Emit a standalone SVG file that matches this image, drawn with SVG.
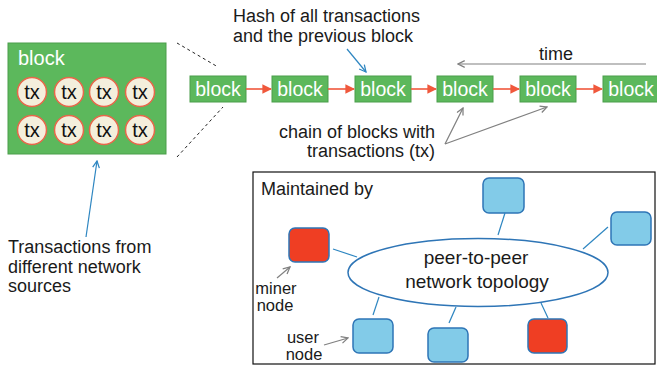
<svg xmlns="http://www.w3.org/2000/svg" width="657" height="367" viewBox="0 0 657 367">
<defs>
<style>
text{font-family:"Liberation Sans",Arial,sans-serif;fill:#1a1a1a}
.blk{fill:#5cb85c;stroke:#4a9e4a;stroke-width:1}
.bl{fill:#fff;font-size:19.5px;text-anchor:middle}
.tx{fill:#f4efdc;stroke:#e8674a;stroke-width:1.5}
.txt{font-size:20px;text-anchor:middle;fill:#111}
.lbl{font-size:18px}
.small{font-size:16.5px;text-anchor:middle}
.nb{fill:#82cbe8;stroke:#2e75b6;stroke-width:1.5}
.nr{fill:#ef3e23;stroke:#2e75b6;stroke-width:1.5}
.link{stroke:#2e86c1;stroke-width:1.2;fill:none}
.red{stroke:#f0583c;stroke-width:1.6;fill:none}
.gray{stroke:#808080;stroke-width:1.2;fill:none}
.blue{stroke:#2e86c1;stroke-width:1.2;fill:none}
.dash{stroke:#222;stroke-width:1;stroke-dasharray:3,3;fill:none}
</style>
<marker id="ar" viewBox="0 0 10 10" refX="9" refY="5" markerWidth="6" markerHeight="6" orient="auto"><path d="M0,0L10,5L0,10z" fill="#f0583c"/></marker>
<marker id="ag" viewBox="0 0 10 10" refX="9" refY="5" markerWidth="7" markerHeight="7" orient="auto"><path d="M1,1L9,5L1,9" fill="none" stroke="#808080" stroke-width="1.5"/></marker>
<marker id="ab" viewBox="0 0 10 10" refX="9" refY="5" markerWidth="7" markerHeight="7" orient="auto"><path d="M1,1L9,5L1,9" fill="none" stroke="#2e86c1" stroke-width="1.5"/></marker>
</defs>

<g id="big-block">
<rect class="blk" x="8" y="43" width="158" height="111"/>
<text x="18" y="65" style="fill:#fff;font-size:20px">block</text>
<g>
<circle class="tx" cx="32" cy="92" r="14.5"/><text class="txt" x="32" y="98.5">tx</text>
<circle class="tx" cx="69" cy="92" r="14.5"/><text class="txt" x="69" y="98.5">tx</text>
<circle class="tx" cx="104" cy="92" r="14.5"/><text class="txt" x="104" y="98.5">tx</text>
<circle class="tx" cx="140" cy="92" r="14.5"/><text class="txt" x="140" y="98.5">tx</text>
<circle class="tx" cx="32" cy="130" r="14.5"/><text class="txt" x="32" y="136.5">tx</text>
<circle class="tx" cx="69" cy="130" r="14.5"/><text class="txt" x="69" y="136.5">tx</text>
<circle class="tx" cx="104" cy="130" r="14.5"/><text class="txt" x="104" y="136.5">tx</text>
<circle class="tx" cx="140" cy="130" r="14.5"/><text class="txt" x="140" y="136.5">tx</text>
</g>
</g>

<g id="b1"><rect class="blk" x="190" y="76" width="56" height="26"/><text class="bl" x="218" y="96">block</text></g>
<g id="b2"><rect class="blk" x="272" y="76" width="56" height="26"/><text class="bl" x="300" y="96">block</text></g>
<g id="b3"><rect class="blk" x="355" y="76" width="56" height="26"/><text class="bl" x="383" y="96">block</text></g>
<g id="b4"><rect class="blk" x="437" y="76" width="56" height="26"/><text class="bl" x="465" y="96">block</text></g>
<g id="b5"><rect class="blk" x="520" y="76" width="56" height="26"/><text class="bl" x="548" y="96">block</text></g>
<g id="b6"><rect class="blk" x="603" y="76" width="56" height="26"/><text class="bl" x="631" y="96">block</text></g>

<g id="box">
<rect x="253" y="172" width="402" height="192" fill="#fff" stroke="#111" stroke-width="1.2"/>
<text x="261" y="195" style="font-size:18px">Maintained by</text>
</g>
<g id="p2p">
<ellipse cx="478" cy="272.5" rx="130" ry="34" fill="#fff" stroke="#2e75b6" stroke-width="1.5"/>
<text x="476" y="264" style="font-size:19px;text-anchor:middle">peer-to-peer</text>
<text x="477" y="288" style="font-size:19px;text-anchor:middle">network topology</text>
</g>
<g id="n-top"><rect class="nb" x="483" y="178" width="41" height="35" rx="6"/></g>
<g id="n-right"><rect class="nb" x="611" y="212" width="40" height="33" rx="6"/></g>
<g id="n-miner"><rect class="nr" x="289" y="228" width="40" height="34" rx="6"/></g>
<g id="n-user"><rect class="nb" x="353" y="319" width="40" height="34" rx="6"/></g>
<g id="n-bottom"><rect class="nb" x="428" y="328" width="40" height="34" rx="6"/></g>
<g id="n-red2"><rect class="nr" x="528" y="319" width="39" height="34" rx="6"/></g>

<g id="labels">
<text x="233" y="22" class="lbl">Hash of all transactions</text>
<text x="233" y="42" class="lbl">and the previous block</text>
<text x="556" y="60" class="lbl" style="text-anchor:middle">time</text>
<text x="435" y="138" class="lbl" style="text-anchor:end">chain of blocks with</text>
<text x="435" y="157" class="lbl" style="text-anchor:end">transactions (tx)</text>
<text x="8" y="253" class="lbl">Transactions from</text>
<text x="8" y="273" class="lbl">different network</text>
<text x="8" y="292" class="lbl">sources</text>
<text x="276" y="294" class="small">miner</text>
<text x="275" y="311" class="small">node</text>
<text x="303" y="343" class="small">user</text>
<text x="304" y="360" class="small">node</text>
</g>

<g id="connectors">
<line class="dash" x1="177" y1="43" x2="218" y2="67"/>
<line class="dash" x1="177" y1="157" x2="223" y2="107"/>
<line class="red" x1="246" y1="89" x2="271" y2="89" marker-end="url(#ar)"/>
<line class="red" x1="328" y1="89" x2="354" y2="89" marker-end="url(#ar)"/>
<line class="red" x1="411" y1="89" x2="436" y2="89" marker-end="url(#ar)"/>
<line class="red" x1="493" y1="89" x2="519" y2="89" marker-end="url(#ar)"/>
<line class="red" x1="576" y1="89" x2="602" y2="89" marker-end="url(#ar)"/>
<line class="blue" x1="347" y1="49" x2="366" y2="72" marker-end="url(#ab)"/>
<line class="gray" x1="646" y1="64" x2="458" y2="64" marker-end="url(#ag)"/>
<line class="gray" x1="445" y1="144" x2="463" y2="108" marker-end="url(#ag)"/>
<line class="gray" x1="445" y1="144" x2="547" y2="107" marker-end="url(#ag)"/>
<line class="blue" x1="86" y1="237" x2="97" y2="161" marker-end="url(#ab)"/>
<line class="gray" x1="277" y1="278" x2="290" y2="267" marker-end="url(#ag)"/>
<line class="gray" x1="324" y1="345" x2="348" y2="338" marker-end="url(#ag)"/>
<line class="link" x1="505" y1="213" x2="498" y2="235"/>
<line class="link" x1="608" y1="227" x2="583" y2="249"/>
<line class="link" x1="333" y1="249" x2="357" y2="257"/>
<line class="link" x1="379" y1="297" x2="373" y2="315"/>
<line class="link" x1="456" y1="307" x2="449" y2="323"/>
<line class="link" x1="541" y1="303" x2="548" y2="318"/>
</g>
</svg>
